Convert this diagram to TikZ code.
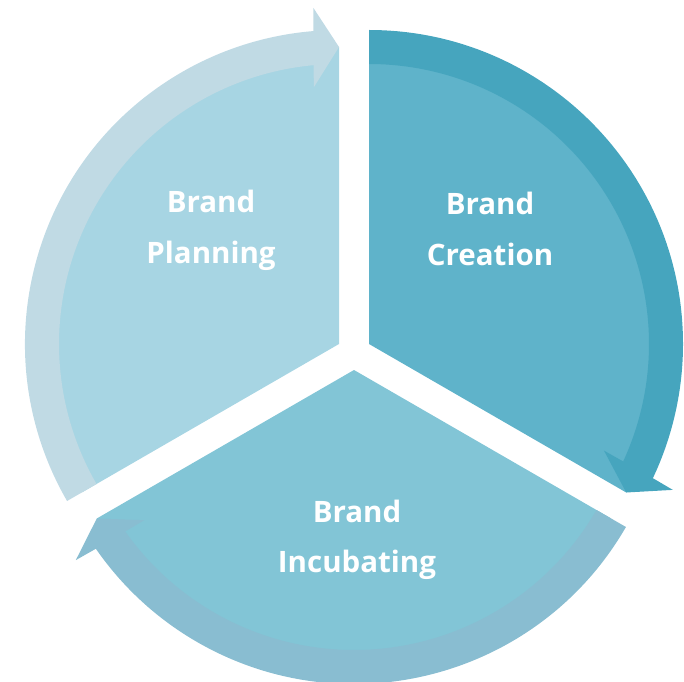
\documentclass[tikz,border=0pt]{standalone}
\usepackage{fontspec}
\setmainfont{Open Sans}
\definecolor{secL}{RGB}{167,213,227}
\definecolor{bandL}{RGB}{192,218,228}
\definecolor{secR}{RGB}{95,179,202}
\definecolor{bandR}{RGB}{70,165,190}
\definecolor{secB}{RGB}{130,197,214}
\definecolor{bandB}{RGB}{137,189,209}
\begin{document}
\begin{tikzpicture}[x=1pt,y=1pt,
  lbl/.style={text=white, font=\bfseries\fontsize{29.5}{35}\selectfont, anchor=base, inner sep=0pt}]
\useasboundingbox (0,0) rectangle (684,681);
\coordinate (VL) at (339,337);
\coordinate (VR) at (369,337);
\coordinate (VB) at (354,311);
% sectors
\fill[secL] (VL) -- ++(210:297) arc[start angle=210, end angle=90, radius=297] -- cycle;
\fill[secR] (VR) -- ++(90:297) arc[start angle=90, end angle=-30, radius=297] -- cycle;
\fill[secB] (VB) -- ++(-30:297) arc[start angle=-30, end angle=-150, radius=297] -- cycle;
% arrow bands
\begin{scope}[shift={(VL)}]
\fill[bandL] (210:314) arc[start angle=210, end angle=94.7, radius=314] -- (94.35:337) -- (90:297) -- (95.6:258) -- (95.2:280) arc[start angle=95.2, end angle=210, radius=280] -- cycle;
\end{scope}
\begin{scope}[shift={(VR)}]
\fill[bandR] (90:314) arc[start angle=90, end angle=-25.3, radius=314] -- (-25.65:337) -- (-30:297) -- (-24.4:258) -- (-24.8:280) arc[start angle=-24.8, end angle=90, radius=280] -- cycle;
\end{scope}
\begin{scope}[shift={(VB)}]
\fill[bandB] (-30:314) arc[start angle=-30, end angle=-145.3, radius=314] -- (-145.65:337) -- (-150:297) -- (-144.4:258) -- (-144.8:280) arc[start angle=-144.8, end angle=-30, radius=280] -- cycle;
\end{scope}
% labels
\node[lbl] (p1) at (211,468) {Brand};
\node[lbl] (p2) at (211,418) {Planning};
\node[lbl] (c1) at (490,466) {Brand};
\node[lbl] (c2) at (490,416) {Creation};
\node[lbl] (i1) at (357,159) {Brand};
\node[lbl] (i2) at (357,109) {Incubating};
\end{tikzpicture}
\end{document}
